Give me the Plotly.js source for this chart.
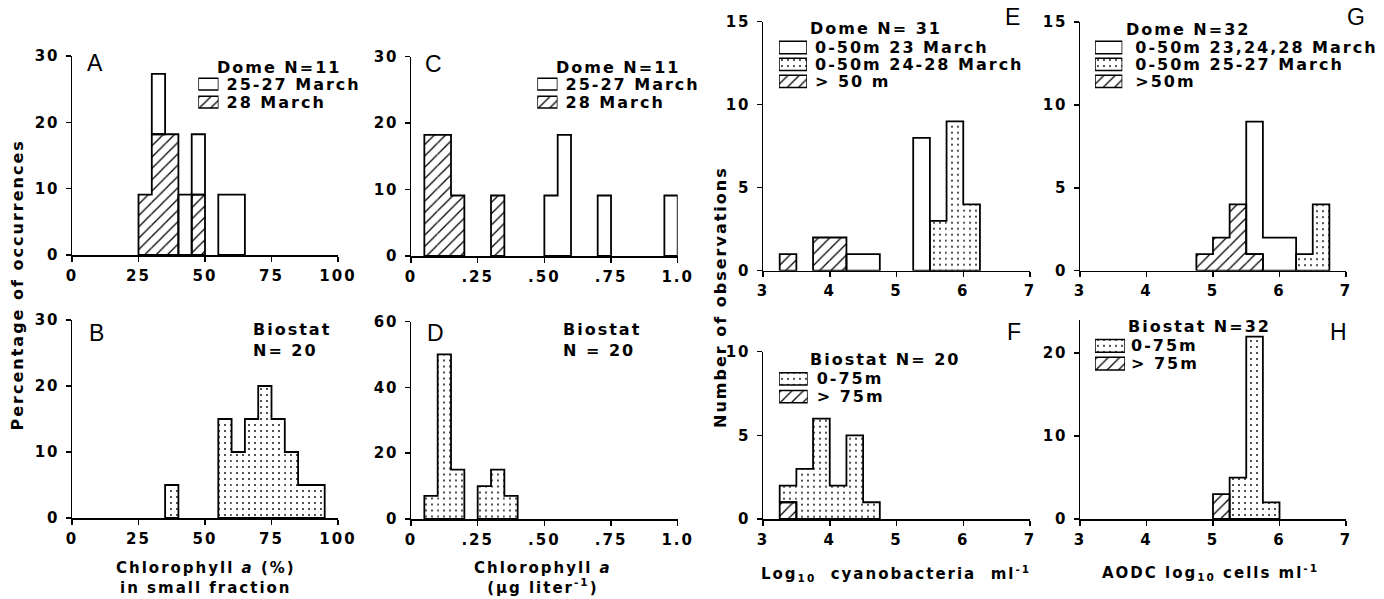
<!DOCTYPE html>
<html>
<head>
<meta charset="utf-8">
<script src="https://cdn.plot.ly/plotly-3.0.1.min.js"></script>
<style>
  html, body { margin: 0; padding: 0; background: #fff; }
  #chart { width: 1384px; height: 599px; }
  svg text { letter-spacing: 2px; }
</style>
</head>
<body>
<div id="chart"></div>
<script>
// ---------------- DATA ----------------
// Panel A: Dome N=11, chlorophyll a (%) in small fraction, bin width 5
const aBinWidth = 5;
const aHatchX = [25, 30, 35, 45];           // 28 March
const aHatchY = [9.1, 18.2, 18.2, 9.1];
const aOpenX  = [30, 40, 45, 55, 60];       // 25-27 March
const aOpenY  = [9.1, 9.1, 9.1, 9.1, 9.1];

// Panel B: Biostat N=20
const bBinWidth = 5;
const bDotX = [35, 55, 60, 65, 70, 75, 80, 85, 90];
const bDotY = [5, 15, 10, 15, 20, 15, 10, 5, 5];

// Panel C: Dome N=11, chlorophyll a (ug/l), bin width 0.05
const cBinWidth = 0.05;
const cHatchX = [0.05, 0.10, 0.15, 0.30];   // 28 March
const cHatchY = [18.2, 18.2, 9.1, 9.1];
const cOpenX  = [0.50, 0.55, 0.70, 0.95];   // 25-27 March
const cOpenY  = [9.1, 18.2, 9.1, 9.1];

// Panel D: Biostat N=20
const dBinWidth = 0.05;
const dDotX = [0.05, 0.10, 0.15, 0.25, 0.30, 0.35];
const dDotY = [7, 50, 15, 10, 15, 7];

// Panel E: Dome N=31, log10 cyanobacteria, bin width 0.25
const eBinWidth = 0.25;
const eHatchX = [3.25, 3.75, 4.0];          // > 50 m
const eHatchY = [1, 2, 2];
const eOpenX  = [4.25, 4.5, 5.25];          // 0-50m 23 March
const eOpenY  = [1, 1, 8];
const eDotX   = [5.5, 5.75, 6.0];           // 0-50m 24-28 March
const eDotY   = [3, 9, 4];

// Panel F: Biostat N=20
const fBinWidth = 0.25;
const fHatchX = [3.25];                     // > 75m
const fHatchY = [1];
const fDotX   = [3.25, 3.5, 3.75, 4.0, 4.25, 4.5];   // 0-75m
const fDotY   = [1, 3, 6, 2, 5, 1];

// Panel G: Dome N=32, AODC log10 cells
const gBinWidth = 0.25;
const gHatchX = [4.75, 5.0, 5.25, 5.5];     // >50m
const gHatchY = [1, 2, 4, 1];
const gOpenX  = [5.5, 5.75, 6.0];           // 0-50m 23,24,28 March
const gOpenY  = [8, 2, 2];
const gDotX   = [6.25, 6.5];                // 0-50m 25-27 March
const gDotY   = [1, 4];

// Panel H: Biostat N=32
const hBinWidth = 0.25;
const hHatchX = [5.0];                      // > 75m
const hHatchY = [3];
const hDotX   = [5.25, 5.5, 5.75];          // 0-75m
const hDotY   = [5, 22, 2];

// Legend labels
const legendA = ['25-27 March', '28 March'];
const legendC = ['25-27 March', '28 March'];
const legendE = ['0-50m 23 March', '0-50m 24-28 March', '> 50 m'];
const legendF = ['0-75m', '> 75m'];
const legendG = ['0-50m 23,24,28 March', '0-50m 25-27 March', '>50m'];
const legendH = ['0-75m', '> 75m'];

// Tick values / labels
const pctYTicks = [0, 10, 20, 30];
const dYTicks = [0, 20, 40, 60];
const cnt15Ticks = [0, 5, 10, 15];
const cnt10Ticks = [0, 5, 10];
const cnt20Ticks = [0, 10, 20];
const pctXTicks = [0, 25, 50, 75, 100];
const chlXTicks = [0, 0.25, 0.5, 0.75, 1.0];
const chlXText = ['0', '.25', '.50', '.75', '1.0'];
const logXTicks = [3, 4, 5, 6, 7];

// ---------------- STYLE / LAYOUT HELPERS ----------------
const W = 1384, H = 599;
const FONT = 'DejaVu Sans, sans-serif';
const pxX = (a, b) => [a / W, b / W];
const pxY = (top, bottom) => [1 - bottom / H, 1 - top / H];
const fx = p => p / W;
const fy = p => 1 - p / H;

const STYLES = {
  open:  { shape: '' },
  hatch: { shape: '/', size: 8, solidity: 0.16 },
  dot:   { shape: '.', size: 6, solidity: 0.07 }
};

function patternFor(kind) {
  const s = STYLES[kind];
  if (!s.shape) return { shape: '' };
  return { shape: s.shape, fgcolor: 'black', bgcolor: 'white', size: s.size, solidity: s.solidity };
}

const traces = [];

function near(a, b) { return Math.abs(a - b) < 1e-9; }

// series: list bottom-to-top of {x, y, kind}
function addPanel(ax, series, w) {
  const xa = 'x' + ax, ya = 'y' + ax;
  const below = [];
  series.forEach(s => {
    const bases = s.x.map(xv => {
      let b = 0;
      below.forEach(o => o.x.forEach((ox, k) => { if (near(ox, xv)) b += o.y[k]; }));
      return b;
    });
    traces.push({
      type: 'bar', x: s.x, y: s.y, base: bases, width: w, offset: 0,
      xaxis: xa, yaxis: ya, showlegend: false, hoverinfo: 'skip',
      marker: { color: 'white', line: { width: 0 }, pattern: patternFor(s.kind) }
    });
    // outline of each contiguous run
    const X = [], Y = [];
    let i = 0;
    while (i < s.x.length) {
      let j = i;
      while (j + 1 < s.x.length && near(s.x[j + 1], s.x[j] + w)) j++;
      X.push(s.x[i]); Y.push(bases[i]);
      for (let k = i; k <= j; k++) {
        X.push(s.x[k], s.x[k] + w);
        Y.push(bases[k] + s.y[k], bases[k] + s.y[k]);
      }
      X.push(s.x[j] + w); Y.push(bases[j]);
      for (let k = j; k >= i; k--) {
        X.push(s.x[k]); Y.push(bases[k]);
        if (k > i) { X.push(s.x[k]); Y.push(bases[k - 1]); }
      }
      X.push(null); Y.push(null);
      i = j + 1;
    }
    traces.push({
      type: 'scatter', mode: 'lines', x: X, y: Y, xaxis: xa, yaxis: ya,
      line: { color: 'black', width: 1.8 }, cliponaxis: false,
      showlegend: false, hoverinfo: 'skip', connectgaps: false
    });
    below.push(s);
  });
}

addPanel(1, [{ x: aHatchX, y: aHatchY, kind: 'hatch' }, { x: aOpenX, y: aOpenY, kind: 'open' }], aBinWidth);
addPanel(2, [{ x: bDotX, y: bDotY, kind: 'dot' }], bBinWidth);
addPanel(3, [{ x: cHatchX, y: cHatchY, kind: 'hatch' }, { x: cOpenX, y: cOpenY, kind: 'open' }], cBinWidth);
addPanel(4, [{ x: dDotX, y: dDotY, kind: 'dot' }], dBinWidth);
addPanel(5, [{ x: eHatchX, y: eHatchY, kind: 'hatch' }, { x: eOpenX, y: eOpenY, kind: 'open' }, { x: eDotX, y: eDotY, kind: 'dot' }], eBinWidth);
addPanel(6, [{ x: fHatchX, y: fHatchY, kind: 'hatch' }, { x: fDotX, y: fDotY, kind: 'dot' }], fBinWidth);
addPanel(7, [{ x: gHatchX, y: gHatchY, kind: 'hatch' }, { x: gOpenX, y: gOpenY, kind: 'open' }, { x: gDotX, y: gDotY, kind: 'dot' }], gBinWidth);
addPanel(8, [{ x: hHatchX, y: hHatchY, kind: 'hatch' }, { x: hDotX, y: hDotY, kind: 'dot' }], hBinWidth);

const layout = {
  width: W, height: H,
  margin: { l: 0, r: 0, t: 0, b: 0, pad: 0 },
  paper_bgcolor: 'white', plot_bgcolor: 'rgba(0,0,0,0)',
  font: { family: FONT, size: 15, color: 'black', weight: 'bold' },
  barmode: 'overlay', showlegend: false,
  annotations: [], shapes: []
};

function mainAxes(n, xd, yd, xr, yr, xt, xtt, yt) {
  const common = {
    showline: true, linecolor: 'black', linewidth: 1.5, showgrid: false, zeroline: false,
    ticks: 'outside', ticklen: 5, tickwidth: 1.5, tickcolor: 'black', fixedrange: true,
    tickfont: { family: FONT, size: 15, weight: 'bold' }
  };
  layout['xaxis' + (n === 1 ? '' : n)] = Object.assign({}, common, {
    domain: xd, range: xr, anchor: 'y' + n, tickmode: 'array', tickvals: xt,
    ticktext: xtt || xt.map(String), ticklabelstandoff: 1
  });
  layout['yaxis' + (n === 1 ? '' : n)] = Object.assign({}, common, {
    domain: yd, range: yr, anchor: 'x' + n, tickmode: 'array', tickvals: yt,
    ticktext: yt.map(String), ticklabelstandoff: 3
  });
}

mainAxes(1, pxX(72, 338), pxY(56, 255), [0, 100], [0, 30], pctXTicks, null, pctYTicks);
mainAxes(2, pxX(72, 338), pxY(320, 518), [0, 100], [0, 30], pctXTicks, null, pctYTicks);
mainAxes(3, pxX(411, 677.7), pxY(56.5, 256), [0, 1], [0, 30], chlXTicks, chlXText, pctYTicks);
mainAxes(4, pxX(411, 677.7), pxY(321.5, 519), [0, 1], [0, 60], chlXTicks, chlXText, dYTicks);
mainAxes(5, pxX(763, 1030), pxY(21.7, 270.7), [3, 7], [0, 15], logXTicks, null, cnt15Ticks);
mainAxes(6, pxX(763, 1030), pxY(351.7, 519), [3, 7], [0, 10], logXTicks, null, cnt10Ticks);
mainAxes(7, pxX(1080, 1346), pxY(22.2, 270.7), [3, 7], [0, 15], logXTicks, null, cnt15Ticks);
mainAxes(8, pxX(1080, 1346), pxY(320, 519), [3, 7], [0, 24], logXTicks, null, cnt20Ticks);

// ---------------- LEGENDS (small swatch bar charts) ----------------
function addLegend(n, names, kinds, left, right, firstRow, spacing, swatchH, gap) {
  const rows = names.length;
  const top = firstRow - spacing / 2;
  const bottom = firstRow + spacing * (rows - 1) + spacing / 2;
  traces.push({
    type: 'bar', orientation: 'h', y: names, x: names.map(() => 1), base: 0,
    width: swatchH / spacing, xaxis: 'x' + n, yaxis: 'y' + n,
    showlegend: false, hoverinfo: 'skip',
    marker: {
      color: 'white', line: { color: 'black', width: 1.5 },
      pattern: {
        shape: kinds.map(k => STYLES[k].shape),
        fgcolor: 'black', bgcolor: 'white',
        size: kinds.map(k => STYLES[k].size || 8),
        solidity: kinds.map(k => STYLES[k].solidity || 0.2)
      }
    }
  });
  layout['xaxis' + n] = { domain: pxX(left, right), range: [0, 1], anchor: 'y' + n, visible: false, fixedrange: true };
  layout['yaxis' + n] = {
    domain: pxY(top, bottom), anchor: 'x' + n, type: 'category',
    categoryorder: 'array', categoryarray: names, range: [rows - 0.5, -0.5],
    tickmode: 'array', tickvals: names, ticktext: names,
    side: 'right', showline: false, showgrid: false, zeroline: false, ticks: '',
    ticklabelstandoff: gap, fixedrange: true, automargin: false,
    tickfont: { family: FONT, size: 16, weight: 'bold' }
  };
}

addLegend(9, legendA, ['open', 'hatch'], 198.3, 218.5, 84.2, 18, 11.7, 7);
addLegend(10, legendC, ['open', 'hatch'], 537.3, 557.5, 84.2, 18, 11.7, 7);
addLegend(11, legendE, ['open', 'dot', 'hatch'], 779, 807, 47.5, 16.9, 12.3, 7);
addLegend(12, legendF, ['dot', 'hatch'], 779, 807.7, 378.8, 17.9, 12.3, 8);
addLegend(13, legendG, ['open', 'dot', 'hatch'], 1095, 1122.3, 47.5, 16.9, 12.3, 12);
addLegend(14, legendH, ['dot', 'hatch'], 1095, 1125, 345.8, 17.9, 12.8, 5);

// ---------------- TEXT ----------------
function ann(text, x, y, opts) {
  layout.annotations.push(Object.assign({
    text: text, xref: 'paper', yref: 'paper', x: fx(x), y: fy(y),
    showarrow: false, xanchor: 'center', yanchor: 'middle',
    font: { family: FONT, size: 16, color: 'black', weight: 'bold' }
  }, opts || {}));
}
const letterFont = { family: 'Liberation Sans, Arial, sans-serif', size: 23, color: 'black', weight: 'normal' };
ann('A', 96, 63, { font: letterFont });
ann('B', 97, 332.5, { font: letterFont });
ann('C', 434.5, 63.5, { font: letterFont });
ann('D', 436.5, 333, { font: letterFont });
ann('E', 1014, 17.5, { font: letterFont });
ann('F', 1015, 331.7, { font: letterFont });
ann('G', 1356.5, 17.5, { font: letterFont });
ann('H', 1339, 331.7, { font: letterFont });

ann('Dome N=11', 278.5, 67);
ann('Dome N=11', 617.5, 67);
ann('Biostat<br>N= 20', 251, 340.5, { xanchor: 'left', align: 'left' });
ann('Biostat<br>N = 20', 561, 340.5, { xanchor: 'left', align: 'left' });
ann('Dome N= 31', 808, 28.5, { xanchor: 'left' });
ann('Biostat N= 20', 808, 359, { xanchor: 'left' });
ann('Dome N=32', 1124, 29.5, { xanchor: 'left' });
ann('Biostat N=32', 1126, 326, { xanchor: 'left' });

ann('Percentage of occurrences', 16.5, 285, { textangle: -90 });
ann('Number of observations', 720, 297, { textangle: -90 });

const axTitleFont = { family: FONT, size: 15, color: 'black', weight: 'bold' };
ann('Chlorophyll <i>a</i> (%)<br>in small fraction', 206, 578, { font: axTitleFont });
ann('Chlorophyll <i>a</i><br>(µg liter<sup>-1</sup>)', 543, 578, { font: axTitleFont });
ann('Log<sub>10</sub>  cyanobacteria  ml<sup>-1</sup>', 896, 573, { font: axTitleFont });
ann('AODC log<sub>10</sub> cells ml<sup>-1</sup>', 1210, 572, { font: axTitleFont });

Plotly.newPlot('chart', traces, layout, { staticPlot: true, displayModeBar: false });
</script>
</body>
</html>
